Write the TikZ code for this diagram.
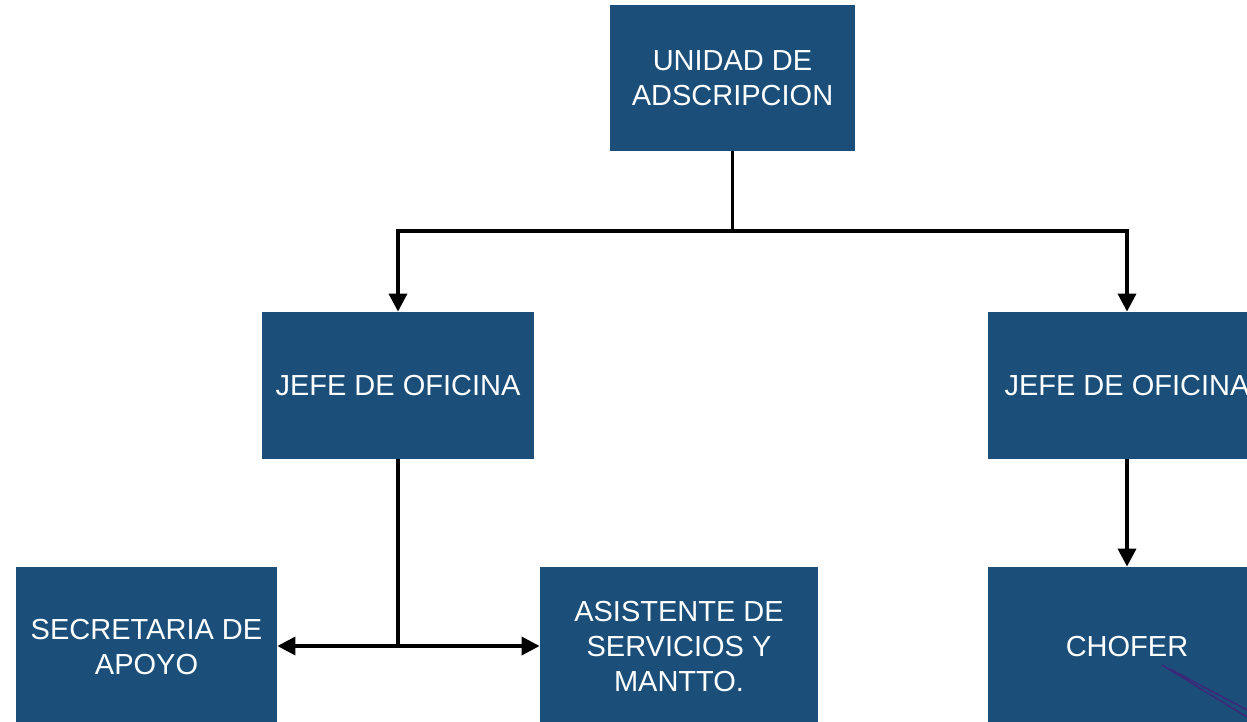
\documentclass[tikz,border=0pt]{standalone}
\usepackage{fontspec}
\setmainfont{Liberation Sans}
\usetikzlibrary{arrows.meta}
\definecolor{azul}{RGB}{27,79,122}
\definecolor{roxo}{RGB}{60,40,120}
\begin{document}
\begin{tikzpicture}[x=0.5pt,y=-0.5pt,
caixa/.style={rectangle,fill=azul,text=white,align=center,
inner sep=0pt,
font=\fontsize{14.5}{17.5}\selectfont},
seta/.style={line width=1.8pt,-{Triangle[length=9pt,width=9pt]}},
linha/.style={line width=1.8pt}
]
\useasboundingbox (0,0) rectangle (1247,722);
\clip (0,0) rectangle (1247,722);

% caixas
\node[caixa,minimum width=122.5pt,minimum height=73pt] (unidad) at (732.5,78) {UNIDAD DE\\ADSCRIPCION};
\node[caixa,minimum width=136pt,minimum height=73.5pt] (jefeA) at (398,385.5) {JEFE DE OFICINA};
\node[caixa,minimum width=139pt,minimum height=73.5pt] (jefeB) at (1127,385.5) {JEFE DE OFICINA};
\node[caixa,minimum width=130.5pt,minimum height=80pt] (secre) at (146.5,647) {SECRETARIA DE\\APOYO};
\node[caixa,minimum width=139pt,minimum height=80pt] (asist) at (679,647) {ASISTENTE DE\\SERVICIOS Y\\MANTTO.};
\node[caixa,minimum width=139pt,minimum height=80pt] (chofer) at (1127,647) {CHOFER};

% ligacoes
\coordinate (r1) at (732.5,231);
\coordinate (r2) at (398,646);
\draw[linha] (unidad) -- (r1);
\draw[seta] (r1) -| (jefeA);
\draw[seta] (r1) -| (jefeB);
\draw[linha] (jefeA) -- (r2);
\draw[seta] (r2) -- (r2 -| secre.east);
\draw[seta] (r2) -- (r2 -| asist.west);
\draw[seta] (jefeB) -- (chofer);

% risco
\draw[roxo,line width=0.8pt] (1162,665) -- (1247,717);
\draw[roxo,line width=0.8pt] (1170,669) -- (1247,710);

\end{tikzpicture}
\end{document}
